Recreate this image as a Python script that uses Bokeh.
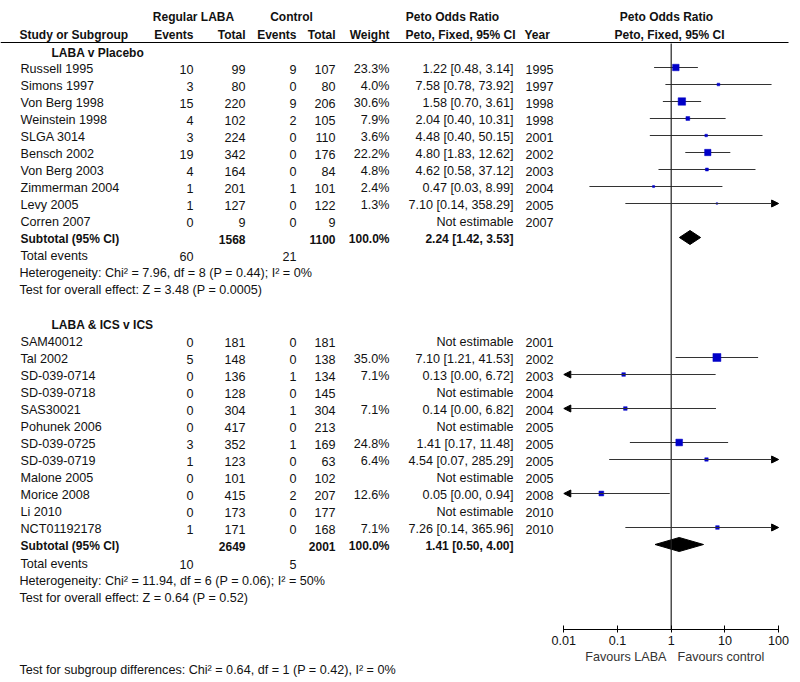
from bokeh.plotting import figure
from bokeh.models import (Range1d, ColumnDataSource, Arrow, NormalHead, FixedTicker,
                          CustomJSTickFormatter, LogScale, LogAxis)
from bokeh.core.properties import value
from bokeh.embed import file_html
from bokeh.resources import INLINE

# ---------------- data ----------------
studies1 = ["Russell 1995", "Simons 1997", "Von Berg 1998", "Weinstein 1998", "SLGA 3014",
            "Bensch 2002", "Von Berg 2003", "Zimmerman 2004", "Levy 2005", "Corren 2007"]
laba_events1 = [10, 3, 15, 4, 3, 19, 4, 1, 1, 0]
laba_total1 = [99, 80, 220, 102, 224, 342, 164, 201, 127, 9]
ctrl_events1 = [9, 0, 9, 2, 0, 0, 0, 1, 0, 0]
ctrl_total1 = [107, 80, 206, 105, 110, 176, 84, 101, 122, 9]
weight1 = [23.3, 4.0, 30.6, 7.9, 3.6, 22.2, 4.8, 2.4, 1.3, None]
or1 = [1.22, 7.58, 1.58, 2.04, 4.48, 4.80, 4.62, 0.47, 7.10, None]
lo1 = [0.48, 0.78, 0.70, 0.40, 0.40, 1.83, 0.58, 0.03, 0.14, None]
hi1 = [3.14, 73.92, 3.61, 10.31, 50.15, 12.62, 37.12, 8.99, 358.29, None]
year1 = [1995, 1997, 1998, 1998, 2001, 2002, 2003, 2004, 2005, 2007]
sub1 = {"laba_total": 1568, "ctrl_total": 1100, "or": 2.24, "lo": 1.42, "hi": 3.53,
        "laba_ev": 60, "ctrl_ev": 21}
het1 = "Heterogeneity: Chi\u00b2 = 7.96, df = 8 (P = 0.44); I\u00b2 = 0%"
eff1 = "Test for overall effect: Z = 3.48 (P = 0.0005)"

studies2 = ["SAM40012", "Tal 2002", "SD-039-0714", "SD-039-0718", "SAS30021", "Pohunek 2006",
            "SD-039-0725", "SD-039-0719", "Malone 2005", "Morice 2008", "Li 2010", "NCT01192178"]
laba_events2 = [0, 5, 0, 0, 0, 0, 3, 1, 0, 0, 0, 1]
laba_total2 = [181, 148, 136, 128, 304, 417, 352, 123, 101, 415, 173, 171]
ctrl_events2 = [0, 0, 1, 0, 1, 0, 1, 0, 0, 2, 0, 0]
ctrl_total2 = [181, 138, 134, 145, 304, 213, 169, 63, 102, 207, 177, 168]
weight2 = [None, 35.0, 7.1, None, 7.1, None, 24.8, 6.4, None, 12.6, None, 7.1]
or2 = [None, 7.10, 0.13, None, 0.14, None, 1.41, 4.54, None, 0.05, None, 7.26]
lo2 = [None, 1.21, 0.00, None, 0.00, None, 0.17, 0.07, None, 0.00, None, 0.14]
hi2 = [None, 41.53, 6.72, None, 6.82, None, 11.48, 285.29, None, 0.94, None, 365.96]
year2 = [2001, 2002, 2003, 2004, 2004, 2005, 2005, 2005, 2005, 2008, 2010, 2010]
sub2 = {"laba_total": 2649, "ctrl_total": 2001, "or": 1.41, "lo": 0.50, "hi": 4.00,
        "laba_ev": 10, "ctrl_ev": 5}
het2 = "Heterogeneity: Chi\u00b2 = 11.94, df = 6 (P = 0.06); I\u00b2 = 50%"
eff2 = "Test for overall effect: Z = 0.64 (P = 0.52)"

subgroup_test = "Test for subgroup differences: Chi\u00b2 = 0.64, df = 1 (P = 0.42), I\u00b2 = 0%"
axis_ticks = [0.01, 0.1, 1, 10, 100]
group_names = ["LABA v Placebo", "LABA & ICS v ICS"]
favours = ["Favours LABA", "Favours control"]

# ---------------- layout constants (pixel units) ----------------
FONT = value("Liberation Sans")
FS = "12.6px"
FSB = "12px"
TC = "#111111"
AXIS_MIN, AXIS_MAX = 0.01, 100
X1 = 670.7      # pixel of OR = 1
PPD = 53.7      # pixels per decade

def v(px):
    return 10 ** ((px - X1) / PPD)

Y_H1, Y_H2, Y_LINE = 15, 33, 42
g1_head = 51
g1_rows = [67 + 17 * i for i in range(len(studies1))]
g1_sub = 237
g1_tot, g1_het, g1_eff = 254, 271, 288
g2_head = 323
g2_rows = [340 + 17 * i for i in range(len(studies2))]
g2_sub = 544
g2_tot, g2_het, g2_eff = 562, 579, 596
Y_SUBTEST = 668
Y_AXIS = 629
Y_FAV = 655
TY = 1.5

X_NAME, X_GROUP = 20, 51
X_EV1, X_TOT1, X_EV2, X_TOT2, X_W, X_OR, X_YR = 193, 245, 296, 335, 389, 513, 525

p = figure(width=800, height=682, x_range=Range1d(0, 800), y_range=Range1d(682, 0),
           output_backend="svg", toolbar_location=None, min_border=0,
           x_axis_location=None, y_axis_location=None)
p.extra_x_ranges = {"log": Range1d(v(0), v(800))}
p.extra_x_scales = {"log": LogScale()}
p.outline_line_color = None
p.grid.grid_line_color = None


def txt(xs, ys, texts, align="left", bold=False, log=False, color=TC):
    kw = {"x_range_name": "log"} if log else {}
    p.text(x=xs, y=[y + TY for y in ys], text=texts, text_align=align, text_baseline="middle",
           text_font=FONT, text_font_size=FSB if bold else FS,
           text_font_style="bold" if bold else "normal", text_color=color, **kw)

# headers
txt([193, 291, 452], [Y_H1] * 3, ["Regular LABA", "Control", "Peto Odds Ratio"], "center", True)
txt([19], [Y_H2], ["Study or Subgroup"], "left", True)
txt([X_EV1, X_TOT1, X_EV2, X_TOT2, X_W], [Y_H2] * 5,
    ["Events", "Total", "Events", "Total", "Weight"], "right", True)
txt([460], [Y_H2], ["Peto, Fixed, 95% CI"], "center", True)
txt([X_YR - 1], [Y_H2], ["Year"], "left", True)
txt([666], [Y_H1], ["Peto Odds Ratio"], "center", True)
txt([669], [Y_H2], ["Peto, Fixed, 95% CI"], "center", True)

p.segment(x0=[0], x1=[788], y0=[Y_LINE], y1=[Y_LINE], line_color="black", line_width=1.2)


def group(head_y, rows, names, lev, ltot, cev, ctot, w, ors, los, his, yrs, sub, sub_y,
          tot_y, het_y, eff_y, het, eff, gname):
    txt([X_GROUP], [head_y], [gname], "left", True)
    txt([X_NAME] * len(rows), rows, names)
    txt([X_EV1] * len(rows), rows, [str(a) for a in lev], "right")
    txt([X_TOT1] * len(rows), rows, [str(a) for a in ltot], "right")
    txt([X_EV2] * len(rows), rows, [str(a) for a in cev], "right")
    txt([X_TOT2] * len(rows), rows, [str(a) for a in ctot], "right")
    wr = [(y, f"{a:.1f}%") for y, a in zip(rows, w) if a is not None]
    txt([X_W] * len(wr), [a for a, _ in wr], [b for _, b in wr], "right")
    ortxt = [f"{o:.2f} [{l:.2f}, {h:.2f}]" if o is not None else "Not estimable"
             for o, l, h in zip(ors, los, his)]
    txt([X_OR] * len(rows), rows, ortxt, "right")
    txt([X_YR] * len(rows), rows, [str(a) for a in yrs])
    txt([X_NAME], [sub_y], ["Subtotal (95% CI)"], "left", True)
    txt([X_TOT1, X_TOT2, X_W, X_OR], [sub_y] * 4,
        [str(sub["laba_total"]), str(sub["ctrl_total"]), "100.0%",
         f"{sub['or']:.2f} [{sub['lo']:.2f}, {sub['hi']:.2f}]"], "right", True)
    txt([X_NAME], [tot_y], ["Total events"])
    txt([X_EV1, X_EV2], [tot_y] * 2, [str(sub["laba_ev"]), str(sub["ctrl_ev"])], "right")
    txt([X_NAME - 1, X_NAME - 1], [het_y, eff_y], [het, eff])

    seg = {"x0": [], "x1": [], "y": []}
    arr = {"x0": [], "x1": [], "y": []}
    pts = {"x": [], "y": [], "s": []}
    for y, o, l, h, ww in zip(rows, ors, los, his, w):
        if o is None:
            continue
        pts["x"].append(o); pts["y"].append(y); pts["s"].append(max(1.6, 1.35 * ww ** 0.5))
        if h > AXIS_MAX:
            arr["x0"].append(l); arr["x1"].append(AXIS_MAX); arr["y"].append(y)
        elif l < AXIS_MIN:
            arr["x0"].append(h); arr["x1"].append(AXIS_MIN); arr["y"].append(y)
        else:
            seg["x0"].append(l); seg["x1"].append(h); seg["y"].append(y)
    p.segment(x0=seg["x0"], x1=seg["x1"], y0=seg["y"], y1=seg["y"], line_color="#333333",
              line_width=1, x_range_name="log")
    p.add_layout(Arrow(end=NormalHead(size=7, fill_color="black", line_color="black", line_width=1),
                       x_start="x0", x_end="x1", y_start="y", y_end="y", source=ColumnDataSource(arr),
                       line_color="#333333", line_width=1, x_range_name="log"))
    p.scatter(x=pts["x"], y=pts["y"], size=pts["s"], marker="square",
              fill_color="#0000C8", line_color="#0000C8", line_width=0.5, x_range_name="log")
    p.patches(xs=[[sub["lo"], sub["or"], sub["hi"], sub["or"]]],
              ys=[[sub_y, sub_y - 7, sub_y, sub_y + 7]], fill_color="black", line_color="black",
              x_range_name="log")


group(g1_head, g1_rows, studies1, laba_events1, laba_total1, ctrl_events1, ctrl_total1, weight1,
      or1, lo1, hi1, year1, sub1, g1_sub, g1_tot, g1_het, g1_eff, het1, eff1, group_names[0])
group(g2_head, g2_rows, studies2, laba_events2, laba_total2, ctrl_events2, ctrl_total2, weight2,
      or2, lo2, hi2, year2, sub2, g2_sub, g2_tot, g2_het, g2_eff, het2, eff2, group_names[1])

txt([X_NAME - 1], [Y_SUBTEST], [subgroup_test])

# line of no effect
p.segment(x0=[1], x1=[1], y0=[Y_LINE + 1], y1=[Y_AXIS], line_color="#222222", line_width=1.2,
          x_range_name="log")

# favours labels
txt([v(666)], [Y_FAV], [favours[0]], "right", log=True, color="#333333")
txt([v(677)], [Y_FAV], [favours[1]], "left", log=True, color="#333333")

ax = LogAxis(x_range_name="log", fixed_location=Y_AXIS)
ax.ticker = FixedTicker(ticks=axis_ticks)
ax.formatter = CustomJSTickFormatter(code="return tick.toString()")
ax.bounds = (AXIS_MIN, AXIS_MAX)
ax.axis_line_color = "black"
ax.major_tick_line_color = "black"
ax.major_tick_in = 4
ax.major_tick_out = 3
ax.minor_tick_line_color = None
ax.major_label_standoff = 3
ax.major_label_text_font = "Liberation Sans"
ax.major_label_text_font_size = FS
ax.major_label_text_color = TC
p.add_layout(ax, "below")

open("out.html", "w").write(file_html(p, INLINE))
